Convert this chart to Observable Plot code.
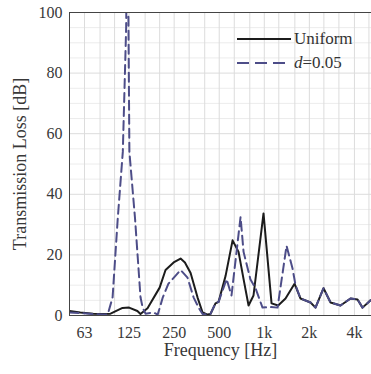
<!DOCTYPE html>
<html>
<head>
<meta charset="utf-8">
<script src="https://cdn.jsdelivr.net/npm/d3@7"></script>
<script src="https://cdn.jsdelivr.net/npm/@observablehq/plot@0.6"></script>
<style>
  html, body { margin: 0; padding: 0; background: #fff; }
  #wrap { position: relative; width: 371px; height: 374px; overflow: hidden; font-family: "Liberation Serif", "Times New Roman", serif; color: #333; }
  #legend { position: absolute; left: 236px; top: 27px; font-size: 17px; line-height: 24px; }
  #legend .row { display: flex; align-items: center; height: 24px; }
  #legend svg { display: block; margin-right: 2px; }
  #chart svg text { font-family: "Liberation Serif", "Times New Roman", serif; }
</style>
</head>
<body>
<div id="wrap">
  <div id="chart"></div>
  <div id="legend"></div>
</div>
<script>
// Uniform (solid) curve: frequency [Hz], transmission loss [dB]
const uniformFreq = [50, 59, 72, 84, 94, 113, 125, 142, 149, 166, 200, 219, 248, 276, 295, 322, 358, 387, 418, 437, 472, 495, 551, 614, 673, 727, 785, 847, 988, 1118, 1238, 1386, 1592, 1746, 2036, 2198, 2487, 2770, 3229, 3767, 4195, 4530, 5125];
const uniformTL   = [1.5, 1.0, 0.6, 0.5, 0.6, 2.5, 2.6, 1.5, 0.5, 2.4, 9.2, 15, 17.5, 18.8, 17.5, 14, 6, 1, 0.3, 0.5, 4, 4.5, 13, 24.8, 21, 12, 3.3, 6.6, 33.7, 4, 3.3, 5.6, 10.5, 5.6, 4.3, 2.6, 9, 4.3, 3.3, 5.6, 5.3, 2.6, 5];

// d = 0.05 (dashed) curve
const dashedFreq = [50, 72, 84, 90, 97, 105, 113.5, 119.5, 122, 125.6, 137, 149, 154, 161, 182, 194, 203, 210, 229, 276, 307, 337, 364, 387, 418, 437, 472, 495, 560, 604, 694, 727, 807, 874, 973, 1100, 1226, 1408, 1544, 1617, 1746, 2036, 2198, 2487, 2770, 3229, 3767, 4195, 4530, 5125];
const dashedTL   = [1.0, 0.5, 0.3, 0.3, 6, 32, 54, 95, 140, 54, 32, 6, 2.6, 0.6, 1, 0.3, 3.5, 6, 10.5, 15, 12.5, 6, 2.6, 0.5, 0.3, 0.5, 4, 4.5, 12, 6.6, 32.5, 21, 12, 9, 2.6, 2.8, 2.6, 23, 15.5, 10, 5.6, 4.3, 2.6, 9, 4.3, 3.3, 5.6, 5.3, 2.6, 5];

// Axis ticks
const xTicks = [63, 125, 250, 500, 1000, 2000, 4000];
const xTickLabels = ["63", "125", "250", "500", "1k", "2k", "4k"];
const yTicks = [0, 20, 40, 60, 80, 100];
const gridFreqs = [63, 80, 100, 125, 160, 200, 250, 315, 400, 500, 630, 800, 1000, 1250, 1600, 2000, 2500, 3150, 4000, 5000];
const minorY = [5, 10, 15, 25, 30, 35, 45, 50, 55, 65, 70, 75, 85, 90, 95];

const seriesNames = ["Uniform", "d=0.05"];
const xTitle = "Frequency [Hz]";
const yTitle = "Transmission Loss [dB]";

const uniform = uniformFreq.map((f, i) => ({f, tl: uniformTL[i]}));
const dashed = dashedFreq.map((f, i) => ({f, tl: dashedTL[i]}));
const xTickData = xTicks.map((t, i) => ({f: t, label: xTickLabels[i]}));

const solidColor = "#1c1c1c";
const dashColor = "#4d4d88";
const textColor = "#383838";
const serif = "Liberation Serif, Times New Roman, serif";

const chart = Plot.plot({
  width: 371,
  height: 374,
  marginLeft: 69,
  marginRight: 0,
  marginTop: 12,
  marginBottom: 59,
  style: {fontFamily: serif, fontSize: "16px", color: textColor, background: "#fff"},
  x: {type: "log", domain: [50, 5200], axis: null},
  y: {domain: [0, 100]},
  marks: [
    Plot.ruleY(minorY, {stroke: "#ececec", strokeWidth: 1}),
    Plot.ruleY(yTicks, {stroke: "#dcdcdc", strokeWidth: 1}),
    Plot.ruleX(gridFreqs, {stroke: "#dcdcdc", strokeWidth: 1}),
    Plot.line(uniform, {x: "f", y: "tl", stroke: solidColor, strokeWidth: 2, clip: true}),
    Plot.line(dashed, {x: "f", y: "tl", stroke: dashColor, strokeWidth: 2, strokeDasharray: "9,5", clip: true}),
    Plot.frame({stroke: "#444", strokeWidth: 1}),
    Plot.text(xTickData, {x: "f", text: "label", frameAnchor: "bottom", lineAnchor: "top", dy: 11, fontSize: 16, fontFamily: serif, fill: textColor}),
    Plot.axisY(yTicks, {tickSize: 0, tickPadding: 7, label: null, fontSize: 16, fontFamily: serif}),
    Plot.text([xTitle], {frameAnchor: "bottom", lineAnchor: "top", dy: 28, fontSize: 18, fontFamily: serif, fill: textColor}),
    Plot.text([yTitle], {frameAnchor: "left", textAnchor: "middle", lineAnchor: "middle", dx: -49, rotate: -90, fontSize: 18, fontFamily: serif, fill: textColor})
  ]
});
document.getElementById("chart").appendChild(chart);

// Legend (inside plot, top-right)
const legend = document.getElementById("legend");
const items = [
  {name: seriesNames[0], color: solidColor, dash: null},
  {name: seriesNames[1], color: dashColor, dash: "12,6"}
];
items.forEach(it => {
  const row = document.createElement("div");
  row.className = "row";
  const ns = "http://www.w3.org/2000/svg";
  const s = document.createElementNS(ns, "svg");
  s.setAttribute("width", 56); s.setAttribute("height", 10);
  const l = document.createElementNS(ns, "line");
  l.setAttribute("x1", 1); l.setAttribute("x2", 55); l.setAttribute("y1", 5); l.setAttribute("y2", 5);
  l.setAttribute("stroke", it.color); l.setAttribute("stroke-width", 2);
  if (it.dash) l.setAttribute("stroke-dasharray", it.dash);
  s.appendChild(l);
  row.appendChild(s);
  const t = document.createElement("span");
  if (it.name.startsWith("d=")) {
    t.innerHTML = "<i>d</i>" + it.name.slice(1);
  } else {
    t.textContent = it.name;
  }
  row.appendChild(t);
  legend.appendChild(row);
});
</script>
</body>
</html>
